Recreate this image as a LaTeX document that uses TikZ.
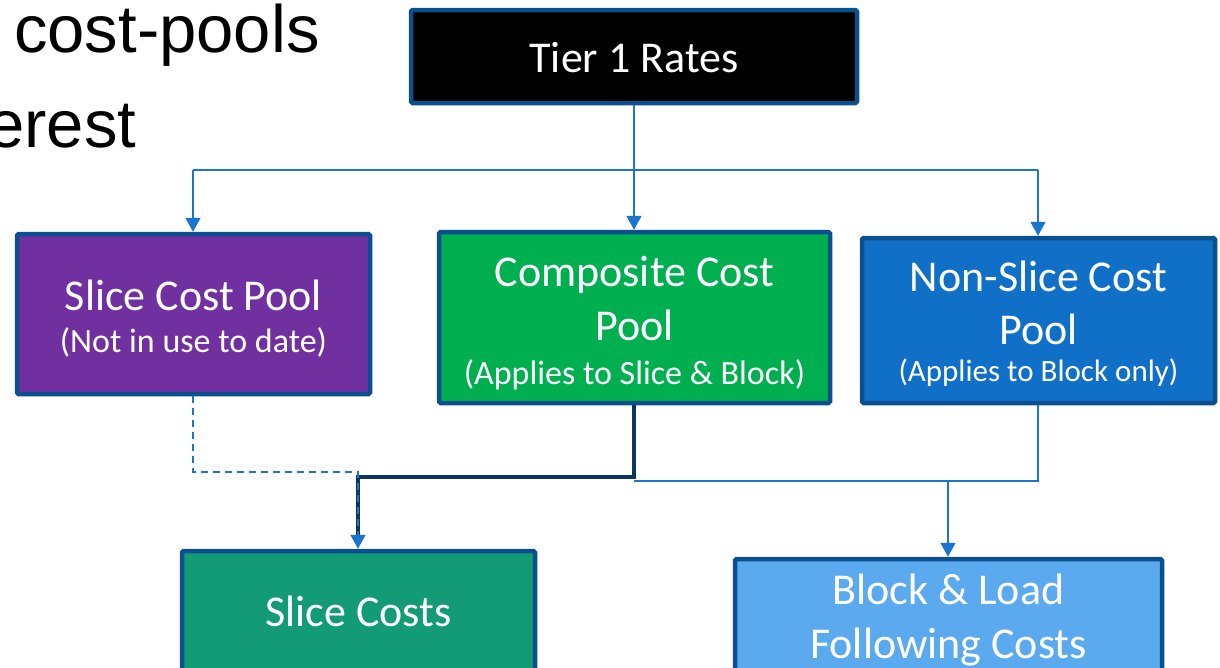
\documentclass[tikz,border=0pt]{standalone}
\usepackage{fontspec}
\setmainfont{Carlito}
\newfontfamily\arialfont{Liberation Sans}
\usetikzlibrary{arrows.meta}
\definecolor{bordc}{HTML}{0B4F8E}
\definecolor{linec}{HTML}{1B74CD}
\definecolor{darkc}{HTML}{0D3563}
\definecolor{purplec}{HTML}{7030A0}
\definecolor{greenc}{HTML}{00B050}
\definecolor{bluec}{HTML}{1070C8}
\definecolor{tealc}{HTML}{129B74}
\definecolor{lightc}{HTML}{5BAAF0}
\tikzset{
  box/.style={draw=bordc, line width=4.5pt, rounded corners=1.5pt, inner sep=0pt},
  big/.style={anchor=base, inner sep=0pt, text=white, font=\fontsize{44}{53}\selectfont},
  small/.style={anchor=base, inner sep=0pt, text=white, font=\fontsize{#1}{40}\selectfont},
  slide/.style={anchor=base west, inner sep=0pt, font=\arialfont\fontsize{67}{67}\selectfont},
  conn/.style={draw=linec, line width=1.8pt},
  arr/.style={-{Triangle[width=15pt,length=14pt]}, linec},
  thick/.style={draw=darkc, line width=4pt},
}
\begin{document}
\begin{tikzpicture}[x=1pt,y=-1pt]
\useasboundingbox (0,0) rectangle (1220,667);
% background slide text
\node[slide] (t1) at (14,52) {cost-pools};
\node[slide] (t2) at (-13,147) {erest};
% boxes
\node[box, fill=black, minimum width=446pt, minimum height=93pt] (tier) at (634,56.5) {};
\node[box, fill=purplec, minimum width=353pt, minimum height=160pt] (slicepool) at (193.5,314) {};
\node[box, fill=greenc, minimum width=391pt, minimum height=171pt] (composite) at (634.5,317.5) {};
\node[box, fill=bluec, minimum width=353pt, minimum height=165pt] (nonslice) at (1038.5,320.5) {};
\node[box, fill=tealc, minimum width=353pt, minimum height=124pt] (slicecosts) at (358.5,613) {};
\node[box, fill=lightc, minimum width=427pt, minimum height=118pt] (block) at (948.5,618) {};
% labels
\node[big] (tier-l) at (634,72) {Tier 1 Rates};
\node[big] (slicepool-l1) at (193.5,310) {Slice Cost Pool};
\node[small=34] (slicepool-l2) at (193.5,352) {(Not in use to date)};
\node[big] (composite-l1) at (634.5,286) {Composite Cost};
\node[big] (composite-l2) at (634.5,340) {Pool};
\node[small=34] (composite-l3) at (634.5,384) {(Applies to Slice \& Block)};
\node[big] (nonslice-l1) at (1038.5,291) {Non-Slice Cost};
\node[big] (nonslice-l2) at (1038.5,344) {Pool};
\node[small=31] (nonslice-l3) at (1038.5,381) {(Applies to Block only)};
\node[big] (slicecosts-l) at (358.5,626) {Slice Costs};
\node[big] (block-l1) at (948.5,604) {Block \& Load};
\node[big] (block-l2) at (948.5,658) {Following Costs};
% connector coordinates
\coordinate (hl) at (193,170);
\coordinate (hc) at (634,170);
\coordinate (hr) at (1038,170);
\coordinate (d1) at (193,472);
\coordinate (d2) at (358,472);
\coordinate (k1) at (634,477);
\coordinate (k2) at (358,477);
\coordinate (b1) at (634,481);
\coordinate (b2) at (1038,481);
\coordinate (b3) at (948,481);
% top distribution
\draw[conn] (tier.south) -- (hc);
\draw[conn] (hl) -- (hr);
\draw[conn, arr] (hl) -- (slicepool.north -| hl);
\draw[conn, arr] (hc) -- (composite.north -| hc);
\draw[conn, arr] (hr) -- (nonslice.north -| hr);
% lower connectors
\draw[conn] (b1) -- (b2) -- (nonslice.south -| b2);
\draw[conn, arr] (b3) -- (block.north -| b3);
\draw[thick] (composite.south -| k1) -- (k1) -- (k2) -- ([yshift=10pt]slicecosts.north -| k2);
\draw[conn, dashed, dash pattern=on 7pt off 5pt] (slicepool.south -| d1) -- (d1) -- (d2) -- ([yshift=10pt]slicecosts.north -| d2);
\draw[conn, arr] ([yshift=12pt]slicecosts.north -| d2) -- (slicecosts.north -| d2);
\end{tikzpicture}
\end{document}
